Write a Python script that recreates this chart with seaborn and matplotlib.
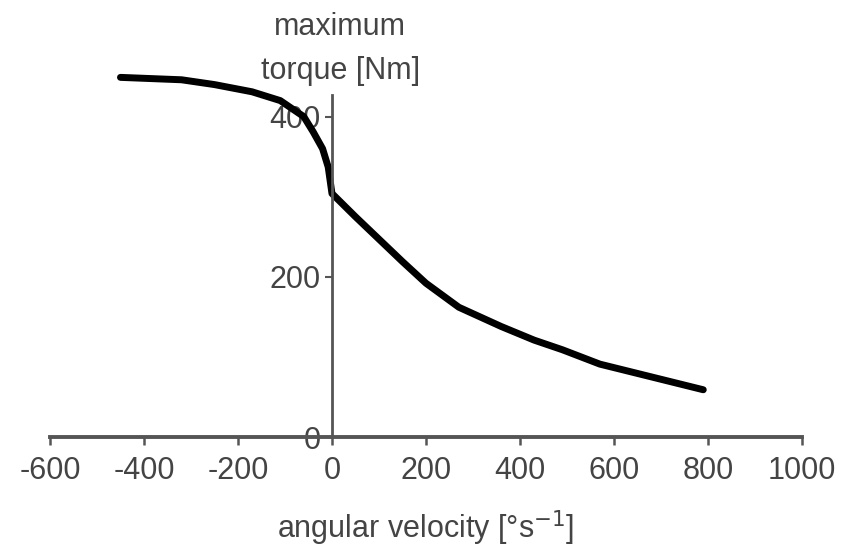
import matplotlib
matplotlib.use("Agg")
import matplotlib.pyplot as plt
import seaborn as sns
import pandas as pd

velocity = [-450, -320, -250, -170, -110, -60, -40, -20, -8, 0, 50, 100, 150,
            200, 270, 360, 430, 490, 570, 680, 790]
torque = [449, 446, 440, 431, 420, 400, 381, 360, 337, 304, 275, 247, 219,
          192, 162, 138, 121, 109, 91, 75, 59]
x_ticks = [-600, -400, -200, 0, 200, 400, 600, 800, 1000]
y_ticks = [0, 200, 400]

sns.set_theme(style="white")
plt.rcParams['font.family'] = ['Liberation Sans', 'DejaVu Sans']

df = pd.DataFrame({"velocity": velocity, "torque": torque})

fig = plt.figure(figsize=(8.57, 5.52), dpi=100)
ax = fig.add_axes([0.0583, 0.2083, 0.8775, 0.6196])
sns.lineplot(data=df, x="velocity", y="torque", ax=ax, color="black",
             linewidth=5, clip_on=False, sort=False, solid_capstyle='round',
             solid_joinstyle='round')

ax.set_xlim(-600, 1000)
ax.set_ylim(0, 427)
ax.set_xticks(x_ticks)
ax.set_yticks(y_ticks)
ax.set_xticklabels([str(v) for v in x_ticks])
ax.set_yticklabels([str(v) for v in y_ticks])

txt = "#444444"
axc = "#555555"
ax.spines['top'].set_visible(False)
ax.spines['right'].set_visible(False)
ax.spines['left'].set_position(('data', 0))
ax.spines['left'].set_color(axc)
ax.spines['left'].set_linewidth(2.0)
ax.spines['bottom'].set_color(axc)
ax.spines['bottom'].set_linewidth(2.8)

ax.tick_params(axis='x', direction='out', length=6, width=1.8, color=axc,
               labelsize=22, labelcolor=txt, pad=8, bottom=True)
ax.tick_params(axis='y', direction='out', length=5, width=1.5, color=axc,
               labelsize=22, labelcolor=txt, pad=3, left=True)

ax.set_xlabel("angular velocity [°s$^{-1}$]", fontsize=22, color=txt, labelpad=16)
ax.set_ylabel("")
fig.text(0.397, 0.845, "maximum\ntorque [Nm]", ha='center', va='bottom',
         fontsize=22, color=txt, linespacing=1.6)

fig.savefig("out.png", dpi=100, facecolor="white")
